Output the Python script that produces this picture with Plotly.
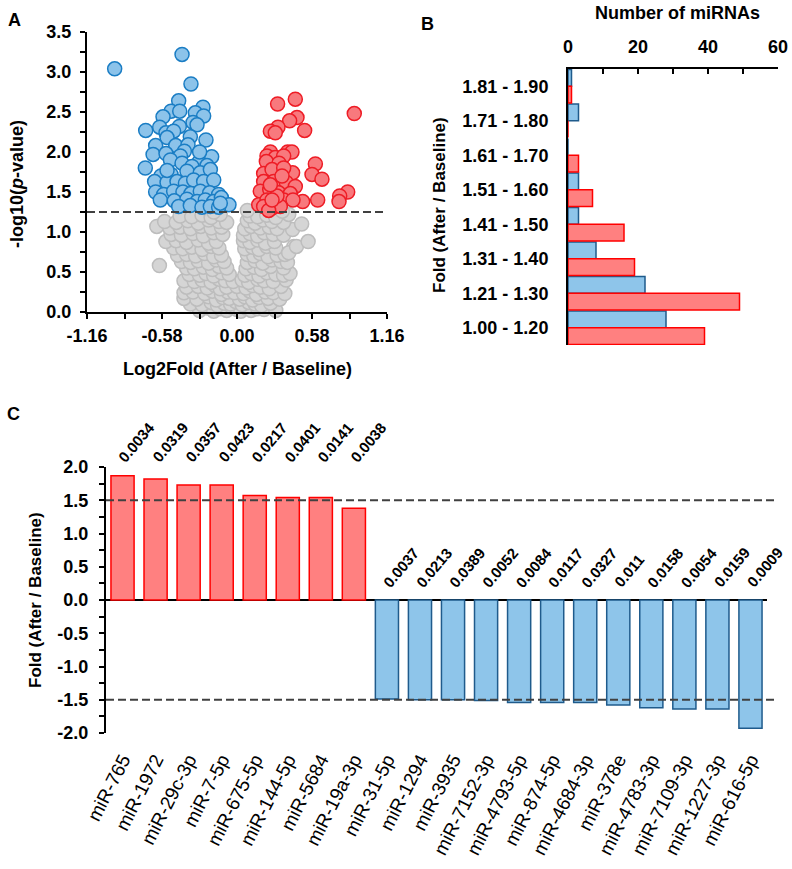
import plotly.graph_objects as go

W, H = 792, 869
def px(x):
    return x / W
def py(y):
    return 1 - y / H

# ---------------- Panel A data (volcano) ----------------
blue_x = [-0.946, -0.425, -0.356, -0.451, -0.263, -0.510, -0.572, -0.322, -0.258, -0.443,
          -0.706, -0.598, -0.340, -0.309, -0.446, -0.549, -0.490, -0.361, -0.240, -0.541,
          -0.629, -0.474, -0.379, -0.407, -0.649, -0.549, -0.438, -0.196, -0.515, -0.709,
          -0.425, -0.296, -0.348, -0.232, -0.588, -0.510, -0.387, -0.284, -0.206, -0.637,
          -0.541, -0.464, -0.399, -0.335, -0.258, -0.180, -0.629, -0.567, -0.490, -0.418,
          -0.356, -0.284, -0.211, -0.142, -0.593, -0.485, -0.387, -0.309, -0.245, -0.180,
          -0.121, -0.062, -0.451, -0.361, -0.271, -0.206, -0.142, -0.129, -0.541, -0.289]
blue_y = [3.04, 3.22, 2.85, 2.64, 2.56, 2.51, 2.44, 2.49, 2.45, 2.51,
          2.27, 2.31, 2.37, 2.34, 2.32, 2.24, 2.26, 2.19, 2.15, 2.18,
          2.08, 2.08, 2.09, 2.01, 1.97, 1.98, 1.95, 1.94, 1.90, 1.80,
          1.86, 1.87, 1.82, 1.83, 1.70, 1.72, 1.76, 1.74, 1.78, 1.63,
          1.62, 1.63, 1.61, 1.65, 1.63, 1.65, 1.50, 1.47, 1.51, 1.50,
          1.48, 1.51, 1.49, 1.47, 1.40, 1.39, 1.41, 1.38, 1.40, 1.38,
          1.43, 1.34, 1.32, 1.33, 1.31, 1.32, 1.31, 1.36, 1.77, 2.00]

red_x = [0.907, 0.451, 0.314, 0.464, 0.407, 0.523, 0.317, 0.258, 0.296, 0.392,
         0.425, 0.258, 0.232, 0.296, 0.361, 0.227, 0.325, 0.606, 0.580, 0.657,
         0.430, 0.206, 0.271, 0.361, 0.206, 0.284, 0.381, 0.451, 0.180, 0.253,
         0.322, 0.412, 0.856, 0.794, 0.789, 0.624, 0.508, 0.168, 0.232, 0.296,
         0.361, 0.433, 0.206, 0.271, 0.335, 0.245, 0.309, 0.258, 0.348, 0.271]
red_y = [2.48, 2.66, 2.60, 2.43, 2.39, 2.27, 2.31, 2.26, 2.24, 2.00,
         2.00, 2.00, 1.95, 1.93, 1.95, 1.88, 1.86, 1.85, 1.72, 1.66,
         1.74, 1.73, 1.78, 1.80, 1.63, 1.63, 1.62, 1.57, 1.51, 1.53,
         1.49, 1.48, 1.50, 1.45, 1.38, 1.40, 1.38, 1.34, 1.40, 1.38,
         1.40, 1.40, 1.32, 1.30, 1.32, 1.27, 1.45, 1.59, 1.70, 1.40]

gray_x = [-0.29, -0.23, -0.18, -0.13, -0.08, -0.04, 0.00, 0.03, 0.07, 0.11, 0.16, 0.21, 0.30,
          -0.36, -0.27, -0.20, -0.15, -0.10, -0.05, -0.01, 0.04, 0.09, 0.14, 0.19, 0.26,
          -0.41, -0.31, -0.22, -0.16, -0.11, -0.06, 0.02, 0.06, 0.12, 0.17, 0.24, 0.33,
          -0.41, -0.34, -0.25, -0.19, -0.12, -0.07, -0.02, 0.05, 0.10, 0.15, 0.22, 0.28, 0.37,
          -0.39, -0.30, -0.23, -0.17, -0.13, -0.08, 0.00, 0.07, 0.12, 0.18, 0.25, 0.34,
          -0.41, -0.33, -0.27, -0.20, -0.14, -0.09, -0.03, 0.04, 0.09, 0.16, 0.21, 0.28, 0.38,
          -0.37, -0.29, -0.24, -0.18, -0.12, -0.06, 0.06, 0.11, 0.17, 0.23, 0.30, 0.36, 0.41,
          -0.39, -0.33, -0.26, -0.19, -0.14, -0.08, 0.07, 0.13, 0.19, 0.26, 0.36, -0.60,
          -0.43, -0.36, -0.30, -0.22, -0.16, -0.10, 0.08, 0.14, 0.20, 0.27, 0.34, 0.39,
          -0.46, -0.39, -0.32, -0.25, -0.18, -0.12, 0.08, 0.13, 0.18, 0.24, 0.31, 0.37, 0.44,
          -0.49, -0.42, -0.35, -0.27, -0.20, -0.14, 0.06, 0.12, 0.17, 0.23, 0.30, 0.40,
          -0.55, -0.47, -0.39, -0.30, -0.22, -0.16, 0.05, 0.10, 0.16, 0.22, 0.29, 0.46, 0.55,
          -0.51, -0.43, -0.34, -0.26, -0.18, -0.11, 0.05, 0.10, 0.16, 0.21, 0.28, 0.36,
          -0.62, -0.52, -0.44, -0.36, -0.28, -0.20, -0.12, 0.06, 0.11, 0.18, 0.25, 0.31, 0.43,
          -0.56, -0.47, -0.38, -0.30, -0.22, -0.14, -0.08, 0.08, 0.14, 0.20, 0.27, 0.36, 0.50,
          -0.44, -0.35, -0.27, -0.20, -0.13, 0.10, 0.16, 0.23, 0.30, 0.40,
          0.08, -0.18, 0.35]
gray_y = [0.02, 0.05, 0.01, 0.04, 0.02, 0.06, 0.03, 0.01, 0.05, 0.02, 0.04, 0.03, 0.02,
          0.10, 0.09, 0.12, 0.08, 0.11, 0.10, 0.13, 0.09, 0.12, 0.10, 0.08, 0.11,
          0.17, 0.16, 0.19, 0.15, 0.18, 0.17, 0.16, 0.19, 0.15, 0.18, 0.17, 0.16,
          0.24, 0.25, 0.23, 0.26, 0.22, 0.25, 0.24, 0.23, 0.26, 0.22, 0.25, 0.24, 0.23,
          0.31, 0.32, 0.30, 0.33, 0.29, 0.31, 0.32, 0.30, 0.33, 0.31, 0.29, 0.32,
          0.39, 0.38, 0.40, 0.37, 0.41, 0.39, 0.38, 0.40, 0.37, 0.41, 0.39, 0.38, 0.40,
          0.47, 0.46, 0.48, 0.45, 0.49, 0.47, 0.46, 0.48, 0.45, 0.49, 0.47, 0.46, 0.48,
          0.55, 0.54, 0.56, 0.53, 0.57, 0.55, 0.54, 0.56, 0.53, 0.57, 0.55, 0.58,
          0.63, 0.62, 0.64, 0.61, 0.65, 0.63, 0.62, 0.64, 0.61, 0.65, 0.63, 0.62,
          0.71, 0.72, 0.70, 0.73, 0.69, 0.71, 0.72, 0.70, 0.73, 0.69, 0.71, 0.72, 0.82,
          0.80, 0.79, 0.81, 0.78, 0.82, 0.80, 0.79, 0.81, 0.78, 0.82, 0.80, 0.74,
          0.88, 0.89, 0.87, 0.90, 0.86, 0.88, 0.89, 0.87, 0.90, 0.86, 0.88, 0.82, 0.88,
          0.97, 0.96, 0.98, 0.95, 0.99, 0.97, 0.96, 0.98, 0.95, 0.99, 0.97, 0.96,
          1.07, 1.05, 1.06, 1.04, 1.07, 1.05, 1.06, 1.04, 1.07, 1.05, 1.06, 1.04, 1.03,
          1.13, 1.12, 1.14, 1.11, 1.15, 1.13, 1.12, 1.14, 1.11, 1.15, 1.13, 1.12, 1.10,
          1.20, 1.19, 1.21, 1.18, 1.22, 1.20, 1.19, 1.21, 1.18, 1.22,
          1.27, 1.25, 1.26]

a_xtickvals = [-1.16, -0.58, 0.0, 0.58, 1.16]
a_xticktext = ['-1.16', '-0.58', '0.00', '0.58', '1.16']
a_xminor = [-0.87, -0.29, 0.29, 0.87]
a_threshold = 1.25

# ---------------- Panel B data (histogram of folds) ----------------
bins = ['1.81 - 1.90', '1.71 - 1.80', '1.61 - 1.70', '1.51 - 1.60',
        '1.41 - 1.50', '1.31 - 1.40', '1.21 - 1.30', '1.00 - 1.20']
down_counts = [1, 3, 0, 3, 3, 8, 22, 28]
up_counts = [1, 0, 3, 7, 16, 19, 49, 39]
b_tickvals = [0, 10, 20, 30, 40, 50, 60]
b_ticktext = ['0', '', '20', '', '40', '', '60']

# ---------------- Panel C data (top miRNAs) ----------------
mirs = ['miR-765', 'miR-1972', 'miR-29c-3p', 'miR-7-5p', 'miR-675-5p', 'miR-144-5p',
        'miR-5684', 'miR-19a-3p', 'miR-31-5p', 'miR-1294', 'miR-3935', 'miR-7152-3p',
        'miR-4793-5p', 'miR-874-5p', 'miR-4684-3p', 'miR-378e', 'miR-4783-3p',
        'miR-7109-3p', 'miR-1227-3p', 'miR-616-5p']
fold = [1.87, 1.82, 1.73, 1.73, 1.57, 1.54, 1.54, 1.38,
        -1.49, -1.50, -1.50, -1.51, -1.54, -1.54, -1.54, -1.58, -1.62, -1.64, -1.64, -1.93]
pvals = ['0.0034', '0.0319', '0.0357', '0.0423', '0.0217', '0.0401', '0.0141', '0.0038',
         '0.0037', '0.0213', '0.0389', '0.0052', '0.0084', '0.0117', '0.0327', '0.011',
         '0.0158', '0.0054', '0.0159', '0.0009']
c_tickvals = [-2.0, -1.5, -1.0, -0.5, 0.0, 0.5, 1.0, 1.5, 2.0]
c_ticktext = ['-2.0', '-1.5', '-1.0', '-0.5', '0.0', '0.5', '1.0', '1.5', '2.0']
c_thresholds = [1.5, -1.5]

# ---------------- styles ----------------
FONT = 'Liberation Sans, Arial, sans-serif'
BLACK = '#000000'
UP_FILL, UP_EDGE = '#FF8080', '#FF0000'
DN_FILL, DN_EDGE = '#8EC5EA', '#1F5B8C'
tickfont = dict(family=FONT, size=18, color=BLACK, weight='bold')
axis_common = dict(showline=True, linewidth=2, linecolor=BLACK, showgrid=False,
                   zeroline=False, tickcolor=BLACK, tickwidth=2, ticklen=5,
                   tickfont=tickfont, automargin=False)

fig = go.Figure()

# Panel A
fig.add_trace(go.Scatter(x=gray_x, y=gray_y, mode='markers', xaxis='x', yaxis='y',
                         cliponaxis=False, showlegend=False,
                         marker=dict(size=14, color='#D5D5D5',
                                     line=dict(color='#BDBDBD', width=1.5))))
fig.add_trace(go.Scatter(x=blue_x, y=blue_y, mode='markers', xaxis='x', yaxis='y',
                         cliponaxis=False, showlegend=False,
                         marker=dict(size=14, color='#8CC3EA',
                                     line=dict(color='#1A7DC4', width=1.5))))
fig.add_trace(go.Scatter(x=red_x, y=red_y, mode='markers', xaxis='x', yaxis='y',
                         cliponaxis=False, showlegend=False,
                         marker=dict(size=14, color='#F8797D',
                                     line=dict(color='#EE1C25', width=1.5))))

# Panel B
fig.add_trace(go.Bar(y=bins, x=down_counts, orientation='h', xaxis='x2', yaxis='y2',
                     showlegend=False,
                     marker=dict(color=DN_FILL, line=dict(color=DN_EDGE, width=1.5))))
fig.add_trace(go.Bar(y=bins, x=up_counts, orientation='h', xaxis='x2', yaxis='y2',
                     showlegend=False,
                     marker=dict(color=UP_FILL, line=dict(color=UP_EDGE, width=1.5))))

# Panel C
c_fill = [UP_FILL if v > 0 else DN_FILL for v in fold]
c_edge = [UP_EDGE if v > 0 else DN_EDGE for v in fold]
fig.add_trace(go.Bar(x=mirs, y=fold, width=0.7, xaxis='x3', yaxis='y3', showlegend=False,
                     marker=dict(color=c_fill, line=dict(color=c_edge, width=1.5))))

fig.update_layout(
    width=W, height=H, margin=dict(l=0, r=0, t=0, b=0, autoexpand=False),
    paper_bgcolor='white', plot_bgcolor='white',
    barmode='group', bargap=0.03, bargroupgap=0,
    font=dict(family=FONT, color=BLACK),
    xaxis=dict(domain=[px(87), px(387)], anchor='y', range=[-1.16, 1.16],
               tickvals=a_xtickvals, ticktext=a_xticktext, ticks='outside',
               ticklabelstandoff=1,
               minor=dict(tickvals=a_xminor, ticks='outside', ticklen=5, tickwidth=2,
                          tickcolor=BLACK),
               **axis_common),
    yaxis=dict(domain=[py(312), py(32)], anchor='x', range=[0, 3.5], dtick=0.5,
               tickformat='.1f', ticks='outside', ticklabelstandoff=5,
               minor=dict(dtick=0.25, ticks='outside', ticklen=5, tickwidth=2,
                          tickcolor=BLACK),
               **axis_common),
    xaxis2=dict(domain=[px(568), px(778)], anchor='y2', side='top', range=[0, 60],
                tickvals=b_tickvals, ticktext=b_ticktext, ticks='inside',
                ticklabelstandoff=7, **axis_common),
    yaxis2=dict(domain=[py(345), py(69)], anchor='x2', type='category',
                categoryorder='array', categoryarray=bins, range=[7.5, -0.5],
                ticks='', ticklabelstandoff=14, **axis_common),
    xaxis3=dict(domain=[px(106), px(767)], anchor='y3', type='category',
                range=[-0.5, 19.5], showline=False, ticks='', showgrid=False,
                zeroline=False, tickangle=-63, ticklabelstandoff=11, automargin=False,
                tickfont=dict(family=FONT, size=19, color=BLACK)),
    yaxis3=dict(domain=[py(733), py(467)], anchor='x3', range=[-2, 2],
                tickvals=c_tickvals, ticktext=c_ticktext, ticks='outside',
                ticklabelstandoff=7, automargin=False,
                minor=dict(dtick=0.25, ticks='outside', ticklen=5, tickwidth=2,
                           tickcolor=BLACK),
                showline=True, linewidth=2, linecolor=BLACK, showgrid=False,
                zeroline=True, zerolinecolor=BLACK, zerolinewidth=2,
                tickcolor=BLACK, tickwidth=2, ticklen=5, tickfont=tickfont),
)

shapes = [dict(type='line', xref='x', yref='y', x0=-1.16, x1=1.13,
               y0=a_threshold, y1=a_threshold,
               line=dict(color='#404040', width=2, dash='8px,4px'), layer='above')]
for t in c_thresholds:
    shapes.append(dict(type='line', xref='paper', yref='y3', x0=px(106), x1=px(777),
                       y0=t, y1=t, line=dict(color='#404040', width=2, dash='8px,4px'),
                       layer='above'))
fig.update_layout(shapes=shapes)

ann = []
def title(text, x, y, angle=0, size=18):
    ann.append(dict(text=text, x=px(x), y=py(y), xref='paper', yref='paper',
                    showarrow=False, textangle=angle, xanchor='center', yanchor='middle',
                    font=dict(family=FONT, size=size, color=BLACK, weight='bold')))

title('A', 14, 20)
title('B', 427, 24)
title('C', 13, 414)
title('Log2Fold (After / Baseline)', 237, 369)
title('-log10(<i>p</i>-value)', 17, 184, angle=-90)
title('Number of miRNAs', 677, 13)
title('Fold (After / Baseline)', 440, 205, angle=-90, size=17)
title('Fold (After / Baseline)', 35, 600, angle=-90, size=17)

for m, v, p in zip(mirs, fold, pvals):
    if v > 0:
        ypos, yref = py(468), 'paper'
    else:
        ypos, yref = 0.10, 'y3'
    ann.append(dict(text=p, x=m, y=ypos, xref='x3', yref=yref,
                    showarrow=False, textangle=-50, xanchor='left', yanchor='bottom',
                    xshift=-10,
                    font=dict(family=FONT, size=15, color=BLACK, weight='bold')))
fig.update_layout(annotations=ann)

fig.write_html('out.html')
